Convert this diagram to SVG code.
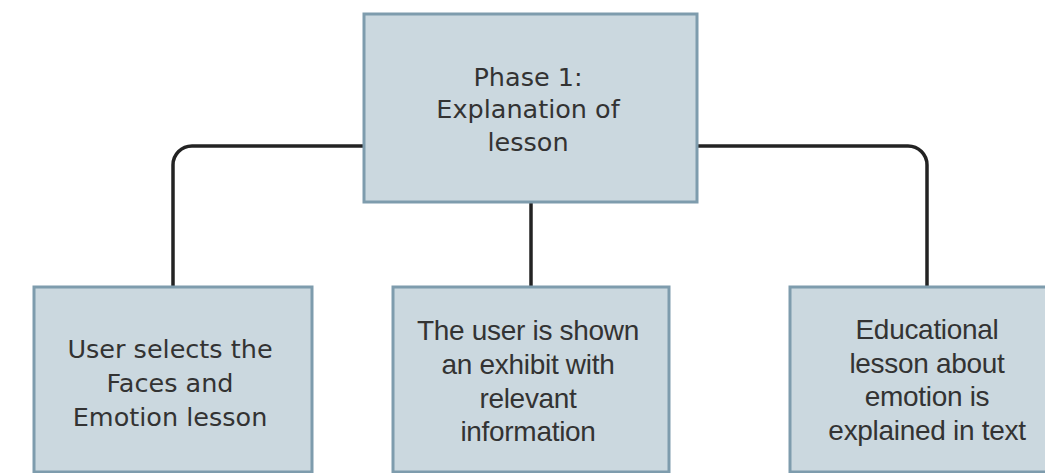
<svg xmlns="http://www.w3.org/2000/svg" width="1045" height="473" viewBox="0 0 1045 473">
<style>
.box{fill:#cbd8df;stroke:#7e9cad;stroke-width:3}
.conn{fill:none;stroke:#232323;stroke-width:3.5}
.t1{font-family:"DejaVu Sans",Verdana,sans-serif;font-size:25.5px;fill:#333;text-anchor:middle}
.t2{font-family:"Liberation Sans",Arial,sans-serif;font-size:28px;letter-spacing:-0.3px;fill:#333;text-anchor:middle}
</style>
<rect width="1045" height="473" fill="#ffffff"/>
<g id="connectors">
<path class="conn" d="M364,146 H192 A19,19 0 0 0 173,165 V287"/>
<path class="conn" d="M697,146 H908 A19,19 0 0 1 927,165 V287"/>
<path class="conn" d="M531,202 V287"/>
</g>
<g id="phase1">
<rect class="box" x="364" y="14" width="333" height="188"/>
<text class="t1" x="528" y="86">Phase 1:</text>
<text class="t1" x="528" y="118">Explanation of</text>
<text class="t1" x="528" y="151">lesson</text>
</g>
<g id="select">
<rect class="box" x="34" y="287" width="278" height="185"/>
<text class="t1" x="170" y="358">User selects the</text>
<text class="t1" x="170" y="392">Faces and</text>
<text class="t1" x="170" y="426">Emotion lesson</text>
</g>
<g id="exhibit">
<rect class="box" x="393" y="287" width="276" height="185"/>
<text class="t2" x="528" y="340">The user is shown</text>
<text class="t2" x="528" y="374">an exhibit with</text>
<text class="t2" x="528" y="408">relevant</text>
<text class="t2" x="528" y="441">information</text>
</g>
<g id="educational">
<rect class="box" x="790" y="287" width="276" height="185"/>
<text class="t2" x="927" y="339">Educational</text>
<text class="t2" x="927" y="373">lesson about</text>
<text class="t2" x="927" y="406">emotion is</text>
<text class="t2" x="927" y="440">explained in text</text>
</g>
</svg>
